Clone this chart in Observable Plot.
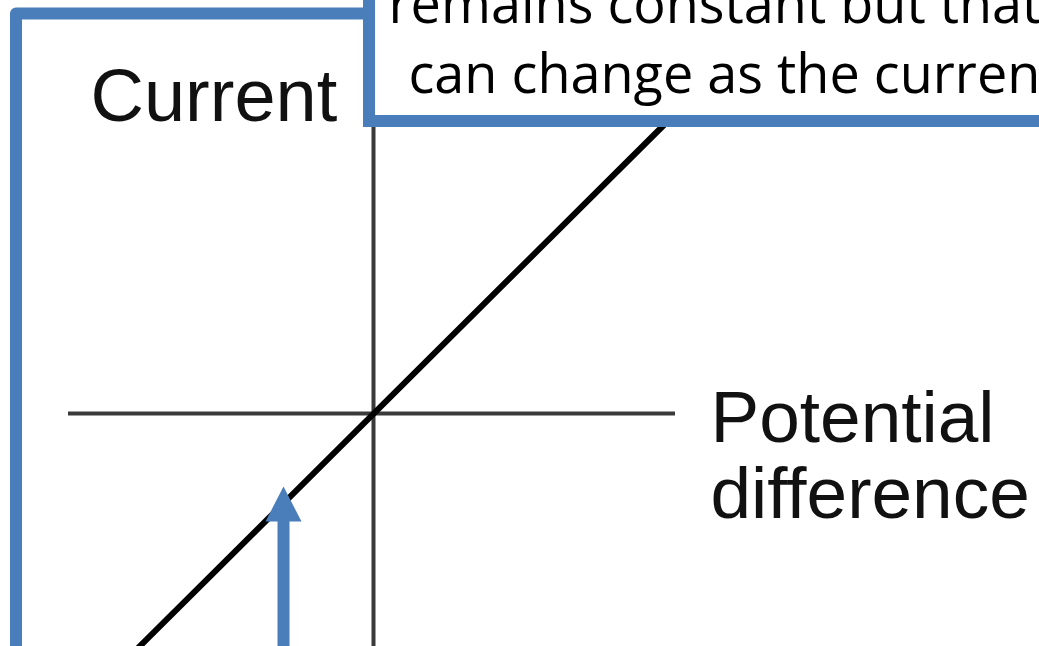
<!DOCTYPE html>
<html><head><meta charset="utf-8">
<script src="https://cdn.jsdelivr.net/npm/d3@7"></script>
<script src="https://cdn.jsdelivr.net/npm/@observablehq/plot@0.6"></script>
<style>html,body{margin:0;padding:0;background:#fff;overflow:hidden}</style>
</head><body><div id="chart"></div>
<script>
// I–V characteristic (ohmic conductor): potential difference vs current, origin at axis crossing
const potentialDifference = [-240, 300];
const current = [-239, 298];
// axis extents
const axisX = [-305, 302];
const axisY = [-240, 290];
// annotation frame (left bracket) and text box
const frameX = [-357.5, -357.5, -4];
const frameY = [-260, 400, 400];
const boxX = [-4, 760];
const boxY = [292, 460];
const boxLines = ["remains constant but that", "can change as the current"];
const boxLineX = [15, 35];
const boxLineY = [391, 321];
// pointer arrow
const arrowShaftX = -90;
const arrowShaftY = [-240, -105];
const arrowHeadX = [-90, -108, -72, -90];
const arrowHeadY = [-73, -108, -108, -73];
// axis labels
const labelCurrent = "Current";
const labelPD = "Potential\ndifference";

const blue = "#4a7ebb";
const lineData = potentialDifference.map((v, i) => ({v, i: current[i]}));
const frame = frameX.map((x, k) => ({x, y: frameY[k]}));
const head = arrowHeadX.map((x, k) => ({x, y: arrowHeadY[k]}));
const boxText = boxLines.map((t, k) => ({t, x: boxLineX[k], y: boxLineY[k]}));

const plot = Plot.plot({
  width: 1039, height: 646, margin: 0,
  x: {domain: [-373, 666], axis: null},
  y: {domain: [-233, 413], axis: null},
  style: {background: "#fff", overflow: "hidden"},
  marks: [
    Plot.ruleY([0], {x1: axisX[0], x2: axisX[1], stroke: "#3a3a3a", strokeWidth: 4}),
    Plot.ruleX([0], {y1: axisY[0], y2: axisY[1], stroke: "#3a3a3a", strokeWidth: 4}),
    Plot.line(lineData, {x: "v", y: "i", stroke: "#000", strokeWidth: 6, clip: true}),
    Plot.text([labelCurrent], {x: -283, y: 293, text: d => d, textAnchor: "start", lineAnchor: "bottom",
      fontFamily: "Liberation Sans, Arial, sans-serif", fontSize: 74, fill: "#111"}),
    Plot.text([labelPD], {x: 337, y: -104, text: d => d, textAnchor: "start", lineAnchor: "bottom", lineHeight: 1.03,
      fontFamily: "Liberation Sans, Arial, sans-serif", fontSize: 73, fill: "#111"}),
    Plot.line(frame, {x: "x", y: "y", stroke: blue, strokeWidth: 12, strokeLinejoin: "round", clip: true}),
    Plot.rect([0], {x1: boxX[0], x2: boxX[1], y1: boxY[0], y2: boxY[1], fill: "#fff", stroke: blue, strokeWidth: 12, clip: true}),
    Plot.text(boxText, {x: "x", y: "y", text: "t", textAnchor: "start", lineAnchor: "bottom",
      fontFamily: "Open Sans, sans-serif", fontSize: 54, fill: "#000", clip: true}),
    Plot.ruleX([arrowShaftX], {y1: arrowShaftY[0], y2: arrowShaftY[1], stroke: blue, strokeWidth: 12, clip: true}),
    Plot.line(head, {x: "x", y: "y", fill: blue, stroke: "none"})
  ]
});
document.getElementById("chart").appendChild(plot);
</script>
</body></html>
